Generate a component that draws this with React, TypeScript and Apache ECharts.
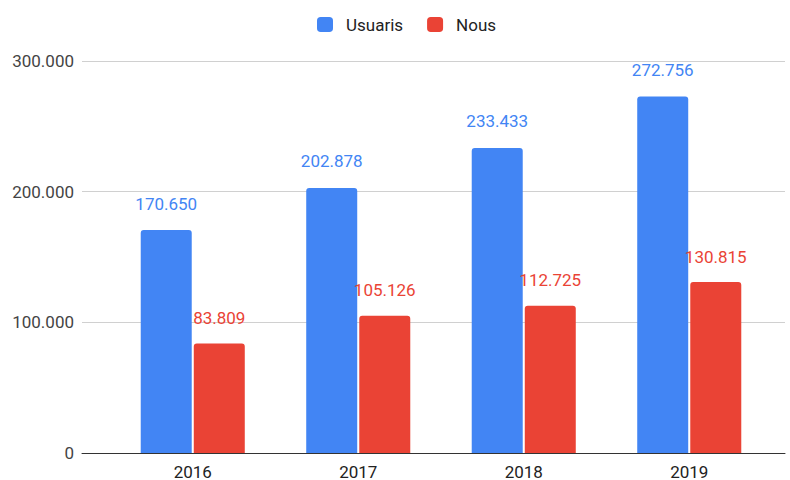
import React, { useEffect, useRef } from "react";
import * as echarts from "echarts";

const categories = ["2016", "2017", "2018", "2019"];
const usuaris = [170650, 202878, 233433, 272756];
const nous = [83809, 105126, 112725, 130815];
const seriesNames = ["Usuaris", "Nous"];

const fmt = (v: number) => String(Math.round(v)).replace(/\B(?=(\d{3})+(?!\d))/g, ".");

export default function App() {
  const ref = useRef<HTMLDivElement>(null);
  useEffect(() => {
    if (!ref.current) return;
    const chart = echarts.init(ref.current, null, { renderer: "svg" });
    const font = "Roboto, Arial, sans-serif";
    chart.setOption({
      animation: false,
      textStyle: { fontFamily: font },
      legend: {
        top: 11,
        left: 312,
        itemWidth: 16,
        itemHeight: 15,
        itemGap: 24,
        icon: "roundRect",
        textStyle: { fontSize: 17, color: "#222", fontFamily: font, padding: [0, 0, 0, 8] },
        data: seriesNames,
      },
      grid: [
        { left: 82, right: 5, top: 61, bottom: 27 },
        { left: 110, right: 18, top: 61, bottom: 27 },
      ],
      xAxis: [
        {
          type: "category",
          gridIndex: 0,
          data: categories,
          axisLabel: { show: false },
          axisTick: { show: false },
          axisLine: { show: true, lineStyle: { color: "#333", width: 1 } },
          z: 5,
        },
        {
          type: "category",
          gridIndex: 1,
          data: categories,
          axisLabel: { fontSize: 17, color: "#222", margin: 10, fontFamily: font },
          axisTick: { show: false },
          axisLine: { show: false },
        },
      ],
      yAxis: [
        {
          type: "value",
          gridIndex: 0,
          min: 0,
          max: 300000,
          interval: 100000,
          axisLabel: { fontSize: 17, color: "#444", margin: 8, formatter: (v: number) => fmt(v), fontFamily: font },
          axisLine: { show: false },
          axisTick: { show: false },
          splitLine: { lineStyle: { color: "#d0d0d0", width: 1 } },
        },
        {
          type: "value",
          gridIndex: 1,
          min: 0,
          max: 300000,
          interval: 100000,
          show: false,
          splitLine: { show: false },
        },
      ],
      series: [
        {
          name: seriesNames[0],
          type: "bar",
          xAxisIndex: 1,
          yAxisIndex: 1,
          data: usuaris,
          barWidth: 51,
          barGap: "4%",
          itemStyle: { color: "#4285F4", borderRadius: [3, 3, 0, 0] },
          label: {
            show: true,
            position: "top",
            distance: 18,
            color: "#4285F4",
            fontSize: 17,
            fontFamily: font,
            formatter: (p: any) => fmt(p.value),
          },
        },
        {
          name: seriesNames[1],
          type: "bar",
          xAxisIndex: 1,
          yAxisIndex: 1,
          data: nous,
          barWidth: 51,
          barGap: "4%",
          itemStyle: { color: "#EA4335", borderRadius: [3, 3, 0, 0] },
          label: {
            show: true,
            position: "top",
            distance: 17,
            color: "#EA4335",
            fontSize: 17,
            fontFamily: font,
            formatter: (p: any) => fmt(p.value),
          },
        },
      ],
    });
    return () => chart.dispose();
  }, []);
  return (
    <div
      ref={ref}
      style={{ position: "fixed", left: 0, top: 0, width: 790, height: 480, background: "#fff" }}
    />
  );
}
